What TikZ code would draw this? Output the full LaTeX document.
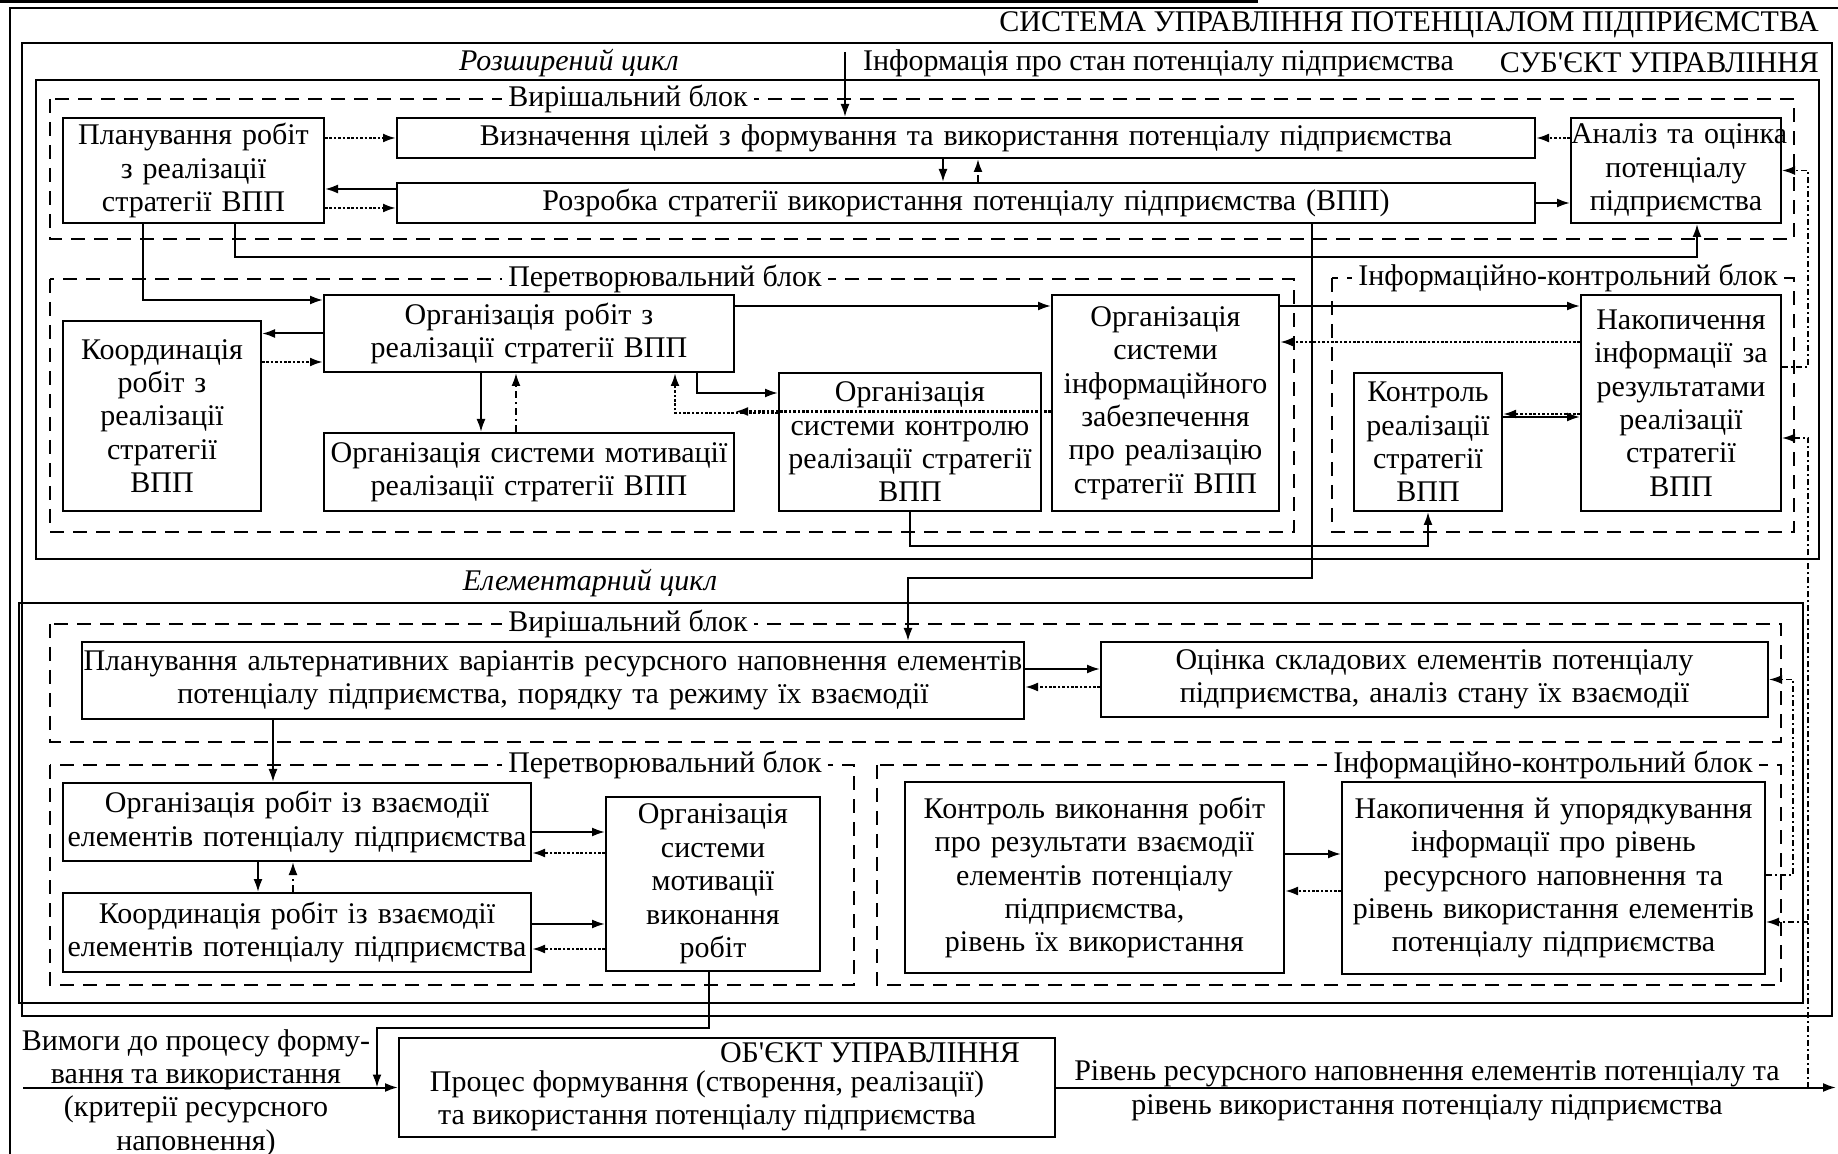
\documentclass[tikz,border=0pt]{standalone}
\usepackage{fontspec}
\setmainfont{Liberation Serif}[Ligatures=TeXOff]
\usetikzlibrary{arrows.meta}
\newcommand\diagfont{\fontsize{15pt}{16.7pt}\selectfont}
\tikzset{
  box/.style={draw, line width=1pt, inner sep=0pt, align=center},
  cyclebox/.style={draw, line width=1pt},
  block/.style={draw, line width=0.9pt, dash pattern=on 7pt off 4.5pt},
  blocklabel/.style={fill=white, inner xsep=3pt, inner ysep=1pt},
  arr/.style={line width=1pt, -{Latex[length=6.5pt,width=4.5pt]}},
  dotarr/.style={arr, line width=1.2pt, dash pattern=on 1.3pt off 0.9pt},
  dasharr/.style={arr, dash pattern=on 3.5pt off 2pt on 1pt off 2pt},
  fbarr/.style={arr, line width=0.8pt, dash pattern=on 3pt off 1.5pt on 1pt off 1.5pt}
}
\begin{document}
\begin{tikzpicture}[x=0.5pt,y=-0.5pt,font=\diagfont]
  \useasboundingbox[fill=white] (0,0) rectangle (1838,1154);
  \draw[line width=1.5pt] (0,2) -- (1258,2);
  \draw[cyclebox] (1845,8) -- (10,8) -- (10,1160);
  \draw[cyclebox] (22,43) rectangle (1832,1016);
  \draw[cyclebox] (36,80) rectangle (1819,559);
  \draw[cyclebox] (19,603) rectangle (1803,1003);
  \node[anchor=east] (systitle) at (1826,25) {СИСТЕМА УПРАВЛІННЯ ПОТЕНЦІАЛОМ ПІДПРИЄМСТВА};
  \node[anchor=east] (subjtitle) at (1826,63) {СУБ'ЄКТ УПРАВЛІННЯ};
  \node[anchor=west] (infotext) at (856,63) {Інформація про стан потенціалу підприємства};
  \node[font=\diagfont\itshape] (extitle) at (569,63) {Розширений цикл};
  \node[font=\diagfont\itshape] (eltitle) at (590,583) {Елементарний цикл};

  \draw[block] (50,99) rectangle (1794,239);
  \node[blocklabel] (dec1) at (628,99) {Вирішальний блок};
  \draw[block] (50,279) rectangle (1294,532);
  \node[blocklabel] (tr1) at (665,279) {Перетворювальний блок};
  \draw[block] (1332,278) rectangle (1794,532);
  \node[blocklabel] (ic1) at (1568,278) {Інформаційно-контрольний блок};
  \draw[block] (50,624) rectangle (1781,742);
  \node[blocklabel] (dec2) at (628,624) {Вирішальний блок};
  \draw[block] (50,765) rectangle (854,985);
  \node[blocklabel] (tr2) at (665,765) {Перетворювальний блок};
  \draw[block] (877,765) rectangle (1781,985);
  \node[blocklabel] (ic2) at (1543,765) {Інформаційно-контрольний блок};

  \node[box, text width=130.5pt, minimum height=52.5pt] (plan) at (193.5,170.5) {Планування робіт\\з реалізації\\стратегії ВПП};
  \node[box, text width=569pt, minimum height=20pt] (goals) at (966,138) {Визначення цілей з формування та використання потенціалу підприємства};
  \node[box, text width=569pt, minimum height=20pt] (strat) at (966,203) {Розробка стратегії використання потенціалу підприємства (ВПП)};
  \node[box, text width=105pt, minimum height=52.5pt] (anal) at (1676,170.5) {Аналіз~та~оцінка\\потенціалу\\підприємства};
  \node[box, text width=99pt, minimum height=95pt] (coord) at (162,416) {Координація\\робіт з\\реалізації\\стратегії\\ВПП};
  \node[box, text width=205pt, minimum height=38.5pt] (orgw) at (529,333.5) {Організація робіт з\\реалізації стратегії ВПП};
  \node[box, text width=205pt, minimum height=39pt] (motiv) at (529,472) {Організація системи мотивації\\реалізації стратегії ВПП};
  \node[box, text width=131pt, minimum height=69pt] (ctrlorg) at (910,442) {Організація\\системи контролю\\реалізації стратегії\\ВПП};
  \node[box, text width=113.5pt, minimum height=108pt] (infoorg) at (1165.5,403) {Організація\\системи\\інформаційного\\забезпечення\\про реалізацію\\стратегії ВПП};
  \node[box, text width=74pt, minimum height=69pt] (ctrl) at (1428,442) {Контроль\\реалізації\\стратегії\\ВПП};
  \node[box, text width=100pt, minimum height=108pt] (accum) at (1681,403) {Накопичення\\інформації за\\результатами\\реалізації\\стратегії\\ВПП};

  \node[box, text width=471pt, minimum height=38.5pt] (eplan) at (553,680.5) {Планування альтернативних варіантів ресурсного наповнення елементів\\потенціалу підприємства, порядку та режиму їх взаємодії};
  \node[box, text width=333.5pt, minimum height=37.5pt] (eval) at (1434.5,679.5) {Оцінка складових елементів потенціалу\\підприємства, аналіз стану їх взаємодії};
  \node[box, text width=234pt, minimum height=39pt] (orgi) at (297,822) {Організація робіт із взаємодії\\елементів потенціалу підприємства};
  \node[box, text width=234pt, minimum height=39.5pt] (coori) at (297,932.5) {Координація робіт із взаємодії\\елементів потенціалу підприємства};
  \node[box, text width=107pt, minimum height=87pt] (motivi) at (713,884) {Організація\\системи\\мотивації\\виконання\\робіт};
  \node[box, text width=189.5pt, minimum height=95.5pt] (ectrl) at (1094.5,877.5) {Контроль виконання робіт\\про результати взаємодії\\елементів потенціалу\\підприємства,\\рівень їх використання};
  \node[box, text width=211.5pt, minimum height=96pt] (eacc) at (1553.5,878) {Накопичення й упорядкування\\інформації про рівень\\ресурсного наповнення та\\рівень використання елементів\\потенціалу підприємства};

  \node[box, minimum width=328pt, minimum height=49.5pt] (obj) at (727,1087.5) {};
  \node[anchor=east] (objtitle) at (1027,1053) {ОБ'ЄКТ УПРАВЛІННЯ};
  \node[align=center] (objtext) at (707,1101) {Процес формування (створення, реалізації)\\та використання потенціалу підприємства};
  \node[align=center] (reqtext) at (196,1093) {Вимоги до процесу форму-\\вання та використання\\(критерії ресурсного\\наповнення)};
  \node[align=center] (outtext) at (1427,1091) {Рівень ресурсного наповнення елементів потенціалу та\\рівень використання потенціалу підприємства};

  \coordinate (infotop) at (845,52);
  \draw[arr] (infotop) -- (infotop |- goals.north);
  \draw[dotarr] (plan.east |- goals) -- (goals.west);
  \draw[arr] ([yshift=7pt]strat.west) -- ([yshift=7pt]strat.west -| plan.east);
  \draw[dotarr] ([yshift=-2.5pt]strat.west -| plan.east) -- ([yshift=-2.5pt]strat.west);
  \draw[arr] ([xshift=-11.5pt]goals.south) -- ([xshift=-11.5pt]strat.north);
  \draw[dasharr] ([xshift=6pt]strat.north) -- ([xshift=6pt]goals.south);
  \draw[dotarr] (anal.west |- goals) -- (goals.east);
  \draw[arr] (strat.east) -- (strat.east -| anal.west);
  \draw[arr] ([xshift=20.75pt]plan.south) -- ++(0,33) -| ([xshift=10.5pt]anal.south);
  \draw[arr] ([xshift=-25.25pt]plan.south) |- ([yshift=16.75pt]orgw.west);
  \draw[arr] ([xshift=173pt]strat.south) -- ++(0,354) -| ([xshift=177.5pt]eplan.north);

  \draw[arr] (orgw.west) -- (orgw.west -| coord.east);
  \draw[dotarr] ([yshift=-14.25pt]orgw.west -| coord.east) -- ([yshift=-14.25pt]orgw.west);
  \draw[arr] ([xshift=-24pt]orgw.south) -- ([xshift=-24pt]motiv.north);
  \draw[dasharr] ([xshift=-6.5pt]motiv.north) -- ([xshift=-6.5pt]orgw.south);
  \draw[arr] ([xshift=84pt]orgw.south) |- ([yshift=24.5pt]ctrlorg.west);
  \draw[dotarr] ([yshift=14.5pt]ctrlorg.west) -| ([xshift=73pt]orgw.south);
  \draw[arr] ([yshift=13.75pt]orgw.east) -- ([yshift=13.75pt]orgw.east -| infoorg.west);
  \draw[dotarr] ([yshift=-4.25pt]infoorg.west) -- ([yshift=-4.25pt]infoorg.west -| orgw.east);
  \draw[arr] ([yshift=48.5pt]infoorg.east) -- ([yshift=48.5pt]infoorg.east -| accum.west);
  \draw[dotarr] ([yshift=30.5pt]accum.west) -- ([yshift=30.5pt]accum.west -| infoorg.east);
  \draw[arr] ([yshift=12.5pt]ctrl.east) -- ([yshift=12.5pt]ctrl.east -| accum.west);
  \draw[dotarr] ([yshift=-5.5pt]accum.west) -- ([yshift=-5.5pt]accum.west -| ctrl.east);
  \draw[arr] (ctrlorg.south) -- ++(0,34) -| (ctrl.south);
  \draw[fbarr] ([yshift=18pt]accum.east) -- ++(26,0) |- (anal.east);

  \draw[arr] ([yshift=5.75pt]eplan.east) -- ([yshift=5.75pt]eplan.east -| eval.west);
  \draw[dotarr] ([yshift=-3.75pt]eval.west) -- ([yshift=-3.75pt]eval.west -| eplan.east);
  \draw[arr] ([xshift=-140pt]eplan.south) -- ([xshift=-140pt]eplan.south |- orgi.north);
  \draw[arr] ([yshift=-5pt]orgi.east) -- ([yshift=-5pt]orgi.east -| motivi.west);
  \draw[dotarr] ([yshift=-15.5pt]orgi.east -| motivi.west) -- ([yshift=-15.5pt]orgi.east);
  \draw[arr] ([yshift=4.25pt]coori.east) -- ([yshift=4.25pt]coori.east -| motivi.west);
  \draw[dotarr] ([yshift=-8.25pt]coori.east -| motivi.west) -- ([yshift=-8.25pt]coori.east);
  \draw[arr] ([xshift=-19.5pt]orgi.south) -- ([xshift=-19.5pt]coori.north);
  \draw[dasharr] ([xshift=-2pt]coori.north) -- ([xshift=-2pt]orgi.south);
  \draw[arr] ([yshift=11.75pt]ectrl.east) -- ([yshift=11.75pt]ectrl.east -| eacc.west);
  \draw[dotarr] ([yshift=-6.5pt]eacc.west) -- ([yshift=-6.5pt]eacc.west -| ectrl.east);
  \draw[fbarr] ([yshift=1.5pt]eacc.east) -- ++(27,0) |- (eval.east);

  \coordinate (reqin) at (23,1087.5);
  \coordinate (reqdrop) at (377,1087.5);
  \coordinate (outend) at (1836,1087.5);
  \coordinate (fbout) at (1808,1087.5);
  \draw[arr] (reqin) -- (obj.west);
  \draw[arr] ([xshift=-2pt]motivi.south) -- ++(0,56) -| (reqdrop);
  \draw[arr] (obj.east) -- (outend);
  \draw[fbarr] (fbout) |- ([yshift=-17.5pt]accum.east);
  \draw[fbarr] ([yshift=-22pt]eacc.east -| fbout) -- ([yshift=-22pt]eacc.east);
\end{tikzpicture}
\end{document}
